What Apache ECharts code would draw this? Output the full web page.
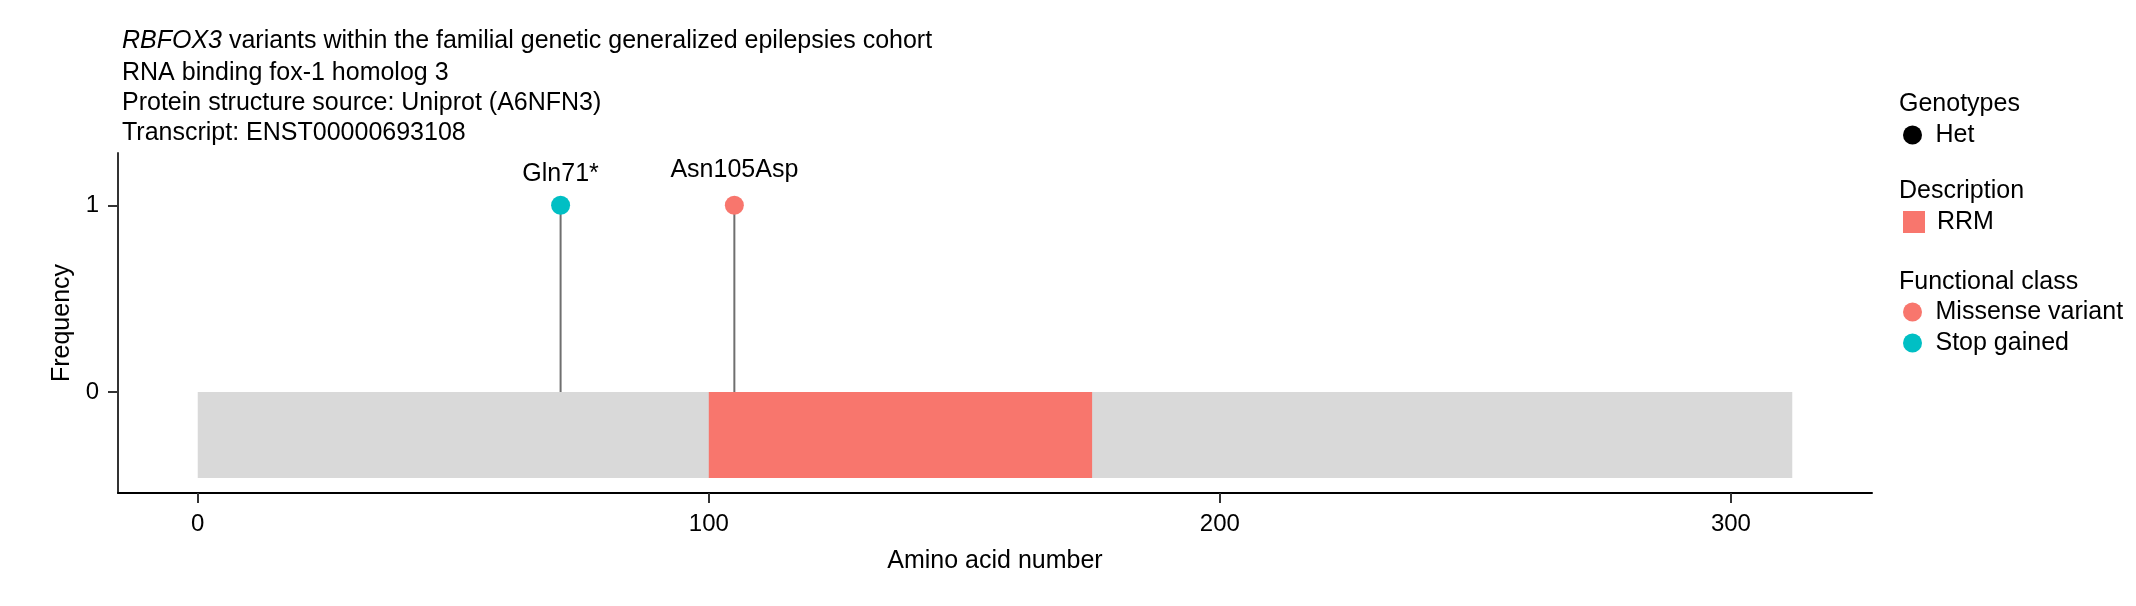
<!DOCTYPE html>
<html>
<head>
    <meta charset="UTF-8">
    <title>RBFOX3 variants</title>
    <script src="https://cdn.jsdelivr.net/npm/echarts@6/dist/echarts.min.js"></script>
    <style>
        html, body { margin: 0; padding: 0; background: #fff; }
        #main { width: 2136px; height: 606px; }
    </style>
</head>
<body>
<div id="main"></div>
<script>
    // protein and domains
    var proteinStart = 0;
    var proteinEnd = 312;
    var domainNames = ['RRM'];
    var domainStart = [100];
    var domainEnd = [175];

    // variants
    var variantLabels = ['Gln71*', 'Asn105Asp'];
    var variantPos = [71, 105];
    var variantFreq = [1, 1];
    var variantClass = ['Stop gained', 'Missense variant'];

    // axes
    var xTicks = [0, 100, 200, 300];
    var yTicks = [0, 1];

    var classColors = { 'Missense variant': '#F8766D', 'Stop gained': '#00BFC4' };
    // labels with a descender sit a little higher in the original
    var labelGap = { 'Missense variant': 13, 'Stop gained': 9 };
    var FONT = "'Liberation Sans', Arial, sans-serif";
    var trackDepth = -0.46;

    function rectItem(params, api) {
        var p0 = api.coord([api.value(0), 0]);
        var p1 = api.coord([api.value(1), trackDepth]);
        return {
            type: 'rect',
            shape: { x: p0[0], y: p0[1], width: p1[0] - p0[0], height: p1[1] - p0[1] },
            style: { fill: api.visual('color') }
        };
    }

    var stemData = variantPos.map(function (x, i) { return [x, variantFreq[i]]; });

    function classSeries(name) {
        var d = [];
        for (var i = 0; i < variantPos.length; i++) {
            if (variantClass[i] === name) d.push([variantPos[i], variantFreq[i], variantLabels[i]]);
        }
        return {
            name: name,
            type: 'scatter',
            data: d,
            symbolSize: 19,
            z: 5,
            itemStyle: { color: classColors[name], opacity: 1 },
            label: {
                show: true, position: 'top', distance: labelGap[name],
                formatter: function (p) { return p.value[2]; },
                fontFamily: FONT, fontSize: 25, color: '#000'
            }
        };
    }

    var txt = { fontFamily: FONT, fontSize: 25, color: '#000', fontWeight: 'normal', lineHeight: 30 };
    function t(text, left, top) {
        return { text: text, left: left, top: top, padding: 0, textStyle: txt };
    }
    var legendText = { fontFamily: FONT, fontSize: 25, color: '#000', lineHeight: 26, padding: [0, 0, 0, 7] };

    var option = {
        animation: false,
        title: [
            {
                text: '{i|RBFOX3} variants within the familial genetic generalized epilepsies cohort',
                left: 122, top: 26, padding: 0,
                textStyle: Object.assign({}, txt, { rich: { i: { fontStyle: 'italic', fontFamily: FONT, fontSize: 25, lineHeight: 30 } } })
            },
            t('RNA binding fox-1 homolog 3', 122, 58),
            t('Protein structure source: Uniprot (A6NFN3)', 122, 88),
            t('Transcript: ENST00000693108', 122, 118),
            t('Genotypes', 1899, 89),
            t('Description', 1899, 176),
            t('Functional class', 1899, 267)
        ],
        legend: [
            {
                data: [{ name: 'Het', icon: 'circle', itemStyle: { color: '#000', opacity: 1 } }],
                left: 1903, top: 122, padding: 0, orient: 'vertical',
                itemWidth: 22, itemHeight: 19,
                textStyle: legendText
            },
            {
                data: [{ name: domainNames[0], icon: 'rect' }],
                left: 1903, top: 209, padding: 0, orient: 'vertical',
                itemWidth: 22, itemHeight: 22,
                textStyle: legendText
            },
            {
                data: [{ name: 'Missense variant', icon: 'circle' }, { name: 'Stop gained', icon: 'circle' }],
                left: 1903, top: 299, padding: 0, orient: 'vertical', itemGap: 5,
                itemWidth: 22, itemHeight: 19,
                textStyle: legendText
            }
        ],
        grid: { left: 118, right: 264, top: 153, bottom: 113, containLabel: false },
        xAxis: {
            type: 'value', min: -15.6, max: 327.6,
            name: 'Amino acid number', nameLocation: 'middle', nameGap: 56,
            nameTextStyle: { fontFamily: FONT, fontSize: 25, color: '#000' },
            axisLine: { show: true, onZero: false, lineStyle: { color: '#000', width: 2 } },
            axisTick: { show: true, length: 10, customValues: xTicks, lineStyle: { color: '#333', width: 2 } },
            axisLabel: { customValues: xTicks, margin: 19, fontFamily: FONT, fontSize: 24, color: '#000' },
            splitLine: { show: false }
        },
        yAxis: {
            type: 'value', min: -0.54, max: 1.28,
            name: 'Frequency', nameLocation: 'middle', nameGap: 35,
            nameTextStyle: { fontFamily: FONT, fontSize: 25, color: '#000' },
            axisLine: { show: true, onZero: false, lineStyle: { color: '#333', width: 2 } },
            axisTick: { show: true, length: 10, customValues: yTicks, lineStyle: { color: '#333', width: 2 } },
            axisLabel: { customValues: yTicks, margin: 19, fontFamily: FONT, fontSize: 24, color: '#000' },
            splitLine: { show: false }
        },
        series: [
            {
                name: 'stems', type: 'custom', z: 2, silent: true,
                data: stemData,
                renderItem: function (params, api) {
                    var a = api.coord([api.value(0), 0]);
                    var b = api.coord([api.value(0), api.value(1)]);
                    return { type: 'line', shape: { x1: a[0], y1: a[1], x2: b[0], y2: b[1] }, style: { stroke: '#6f6f6f', lineWidth: 2 } };
                }
            },
            {
                name: 'Protein', type: 'custom', z: 3, renderItem: rectItem,
                itemStyle: { color: '#D9D9D9' },
                data: [[proteinStart, proteinEnd]]
            },
            {
                name: domainNames[0], type: 'custom', z: 4, renderItem: rectItem,
                itemStyle: { color: '#F8766D' },
                data: domainStart.map(function (s, i) { return [s, domainEnd[i]]; })
            },
            { name: 'Het', type: 'scatter', data: [], itemStyle: { color: '#000', opacity: 1 } },
            classSeries('Missense variant'),
            classSeries('Stop gained')
        ]
    };

    var chart = echarts.init(document.getElementById('main'));
    chart.setOption(option);
</script>
</body>
</html>
